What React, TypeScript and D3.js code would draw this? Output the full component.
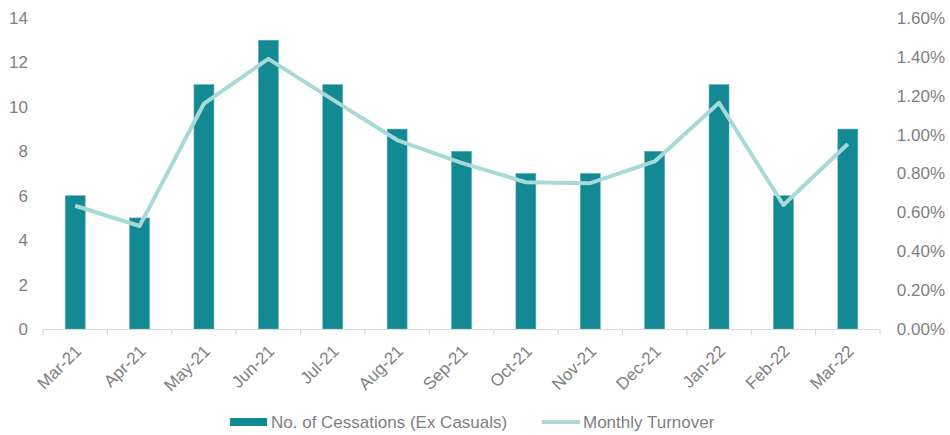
import React from "react";
import * as d3 from "d3";

const months = ["Mar-21","Apr-21","May-21","Jun-21","Jul-21","Aug-21","Sep-21","Oct-21","Nov-21","Dec-21","Jan-22","Feb-22","Mar-22"];
const cessations = [6, 5, 11, 13, 11, 9, 8, 7, 7, 8, 11, 6, 9];
const turnover = [0.634, 0.53, 1.16, 1.39, 1.18, 0.972, 0.855, 0.755, 0.75, 0.862, 1.164, 0.638, 0.952];
const leftTicks = [0, 2, 4, 6, 8, 10, 12, 14];
const rightTicks = [0, 0.2, 0.4, 0.6, 0.8, 1.0, 1.2, 1.4, 1.6];

const W = 950, H = 435;
const plot = { left: 43, right: 880, top: 18, bottom: 329 };
const BAR = "#138993";
const LINE = "#a9d9d7";
const TEXT = "#7f7f7f";
const FONT = "'Liberation Sans', Arial, sans-serif";

export default function App() {
  const x = d3.scaleBand<string>().domain(months).range([plot.left, plot.right]).paddingInner(0.69).paddingOuter(0.345);
  const xb = d3.scaleBand<string>().domain(months).range([plot.left, plot.right]);
  const yL = d3.scaleLinear().domain([0, 14]).range([plot.bottom, plot.top]);
  const yR = d3.scaleLinear().domain([0, 1.6]).range([plot.bottom, plot.top]);
  const line = d3.line<number>()
    .x((_, i) => (xb(months[i]) as number) + xb.bandwidth() / 2)
    .y((d) => yR(d));
  const boundaries = months.map((m) => xb(m) as number).concat([plot.right]);

  return (
    <svg width={W} height={H} style={{ position: "absolute", left: 0, top: 0, background: "#fff" }} fontFamily={FONT}>
      {/* bars */}
      {months.map((m, i) => (
        <rect key={m} x={x(m)} y={yL(cessations[i])} width={x.bandwidth()} height={plot.bottom - yL(cessations[i])} fill={BAR} stroke="#5aaeb4" strokeWidth={0.6} />
      ))}
      {/* category axis */}
      <line x1={plot.left} x2={plot.right} y1={plot.bottom + 0.5} y2={plot.bottom + 0.5} stroke="#d9d9d9" strokeWidth={1.2} />
      {boundaries.map((b, i) => (
        <line key={i} x1={b} x2={b} y1={plot.bottom} y2={plot.bottom + 6} stroke="#d9d9d9" strokeWidth={1.2} />
      ))}
      {/* turnover line */}
      <path d={line(turnover) || ""} fill="none" stroke={LINE} strokeWidth={4} strokeLinejoin="round" />
      {/* left axis labels */}
      {leftTicks.map((t) => (
        <text key={t} x={28} y={yL(t)} dy="0.35em" textAnchor="end" fontSize={17} fill={TEXT}>{t}</text>
      ))}
      {/* right axis labels */}
      {rightTicks.map((t) => (
        <text key={t} x={945} y={yR(t)} dy="0.35em" textAnchor="end" fontSize={17} fill={TEXT}>{d3.format(".2f")(t)}%</text>
      ))}
      {/* month labels */}
      {months.map((m) => {
        const cx = (xb(m) as number) + xb.bandwidth() / 2 + 3;
        const cy = plot.bottom + 19;
        return (
          <text key={m} x={cx} y={cy} textAnchor="end" fontSize={17} fill={TEXT} dy="0.35em" transform={`rotate(-45 ${cx} ${cy})`}>{m}</text>
        );
      })}
      {/* legend */}
      <rect x={230} y={418} width={37} height={8} fill={BAR} />
      <text x={271} y={422} dy="0.35em" fontSize={17} fill={TEXT}>No. of Cessations (Ex Casuals)</text>
      <line x1={542} x2={580} y1={422} y2={422} stroke={LINE} strokeWidth={4} />
      <text x={583} y={422} dy="0.35em" fontSize={17} fill={TEXT}>Monthly Turnover</text>
    </svg>
  );
}
